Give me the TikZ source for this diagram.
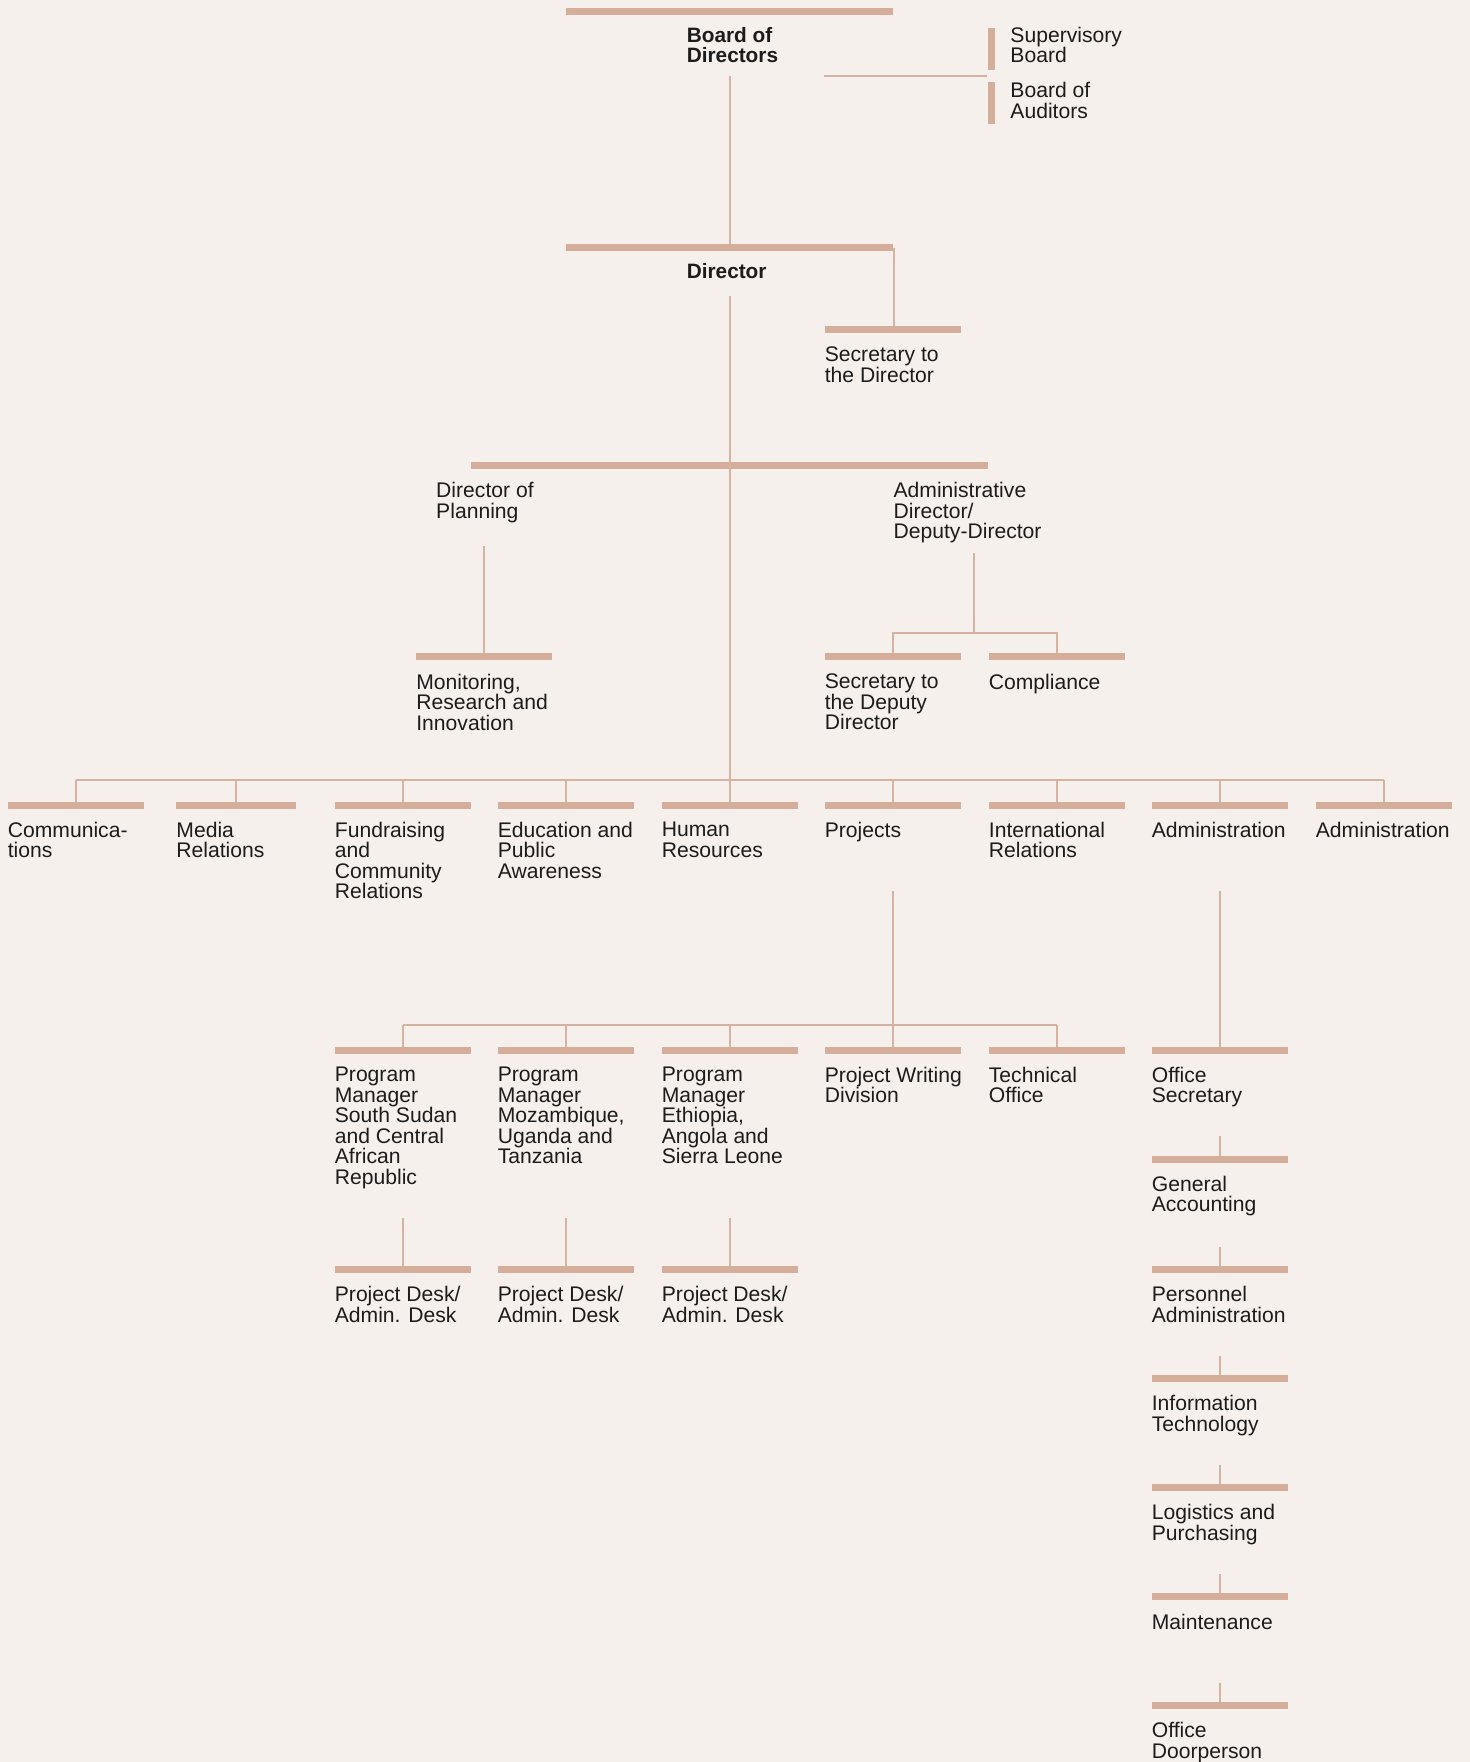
\documentclass[tikz,border=0pt]{standalone}
\usepackage{fontspec}
\setmainfont{Liberation Sans}
\usepackage{tikz}
\usetikzlibrary{positioning}
\definecolor{bgcol}{RGB}{245,240,235}
\definecolor{barcol}{RGB}{212,173,155}
\definecolor{linecol}{RGB}{214,178,161}
\definecolor{ink}{RGB}{28,28,28}
\tikzset{
    % 粗横条
    rolebar/.style={
        fill=barcol,
        inner sep=0pt,
        minimum height=6pt,
        minimum width=121pt
    },
    sidebar/.style={
        fill=barcol,
        inner sep=0pt,
        minimum width=6pt,
        minimum height=37pt
    },
    % 细连线
    wire/.style={
        linecol,
        line width=1.8pt
    },
    rolelbl/.style={
        anchor=north west,
        inner sep=0pt,
        align=left,
        text=ink,
        font=\fontsize{18.8}{18.2}\selectfont,
        execute at begin node={\rule{0pt}{14pt}}
    },
    headlbl/.style={
        rolelbl,
        font=\fontsize{18.5}{18.2}\selectfont\bfseries
    }
}

\begin{document}
\begin{tikzpicture}[x=1pt,y=-1pt]
	\fill[bgcol] (0,0) rectangle (1308,1568);
	\useasboundingbox (0,0) rectangle (1308,1568);
	
	% 顶层
	\node[rolebar,minimum width=291pt] (bodbar) at (649.5,10.5) {};
	\node[headlbl] (bodlbl) at (611,24) {Board of\\Directors};
	\node[sidebar] (supbar) at (882.5,43.5) {};
	\node[rolelbl] (suplbl) at (899,24) {Supervisory\\Board};
	\node[sidebar] (audbar) at (882.5,91.5) {};
	\node[rolelbl] (audlbl) at (899,73) {Board of\\Auditors};
	
	\node[rolebar,minimum width=291pt] (dirbar) at (649.5,220.5) {};
	\node[headlbl] (dirlbl) at (611,234) {Director};
	\node[rolebar] (secbar) at (794.5,293.5) {};
	\node[rolelbl,below right=15pt and 0pt of secbar.west] (seclbl) {Secretary to\\the Director};
	
	% 第二层
	\node[rolebar,minimum width=460pt] (midbar) at (649,414) {};
	\node[rolelbl] (planlbl) at (388,429) {Director of\\Planning};
	\node[rolelbl] (deplbl) at (795,429) {Administrative\\Director/\\Deputy-Director};
	\node[rolebar] (monbar) at (431,584.5) {};
	\node[rolelbl,below right=15pt and 0pt of monbar.west] (monlbl) {Monitoring,\\Research and\\Innovation};
	\node[rolebar] (sdbar) at (794.5,584.5) {};
	\node[rolelbl,below right=15pt and 0pt of sdbar.west] (sdlbl) {Secretary to\\the Deputy\\Director};
	\node[rolebar] (compbar) at (940.5,584.5) {};
	\node[rolelbl,below right=15pt and 0pt of compbar.west] (complbl) {Compliance};
	
	% 部门
	\node[rolebar] (commbar) at (67.5,716.5) {};
	\node[rolelbl,below right=15pt and 0pt of commbar.west] {Communica-\\tions};
	\node[rolebar,minimum width=106pt] (mediabar) at (210,716.5) {};
	\node[rolelbl,below right=15pt and 0pt of mediabar.west] {Media\\Relations};
	\node[rolebar] (fundbar) at (358.5,716.5) {};
	\node[rolelbl,below right=15pt and 0pt of fundbar.west] {Fundraising\\and\\Community\\Relations};
	\node[rolebar] (edubar) at (503.5,716.5) {};
	\node[rolelbl,below right=15pt and 0pt of edubar.west] {Education and\\Public\\Awareness};
	\node[rolebar] (hrbar) at (649.5,716.5) {};
	\node[rolelbl,below right=15pt and 0pt of hrbar.west] {Human\\Resources};
	\node[rolebar] (projbar) at (794.5,716.5) {};
	\node[rolelbl,below right=15pt and 0pt of projbar.west] {Projects};
	\node[rolebar] (intlbar) at (940.5,716.5) {};
	\node[rolelbl,below right=15pt and 0pt of intlbar.west] {International\\Relations};
	\node[rolebar] (admbar) at (1085.5,716.5) {};
	\node[rolelbl,below right=15pt and 0pt of admbar.west] {Administration};
	\node[rolebar] (admtwobar) at (1231.5,716.5) {};
	\node[rolelbl,below right=15pt and 0pt of admtwobar.west] {Administration};
	
	% 项目
	\node[rolebar] (pmabar) at (358.5,934.5) {};
	\node[rolelbl,below right=15pt and 0pt of pmabar.west] {Program\\Manager\\South Sudan\\and Central\\African\\Republic};
	\node[rolebar] (pmbbar) at (503.5,934.5) {};
	\node[rolelbl,below right=15pt and 0pt of pmbbar.west] {Program\\Manager\\Mozambique,\\Uganda and\\Tanzania};
	\node[rolebar] (pmcbar) at (649.5,934.5) {};
	\node[rolelbl,below right=15pt and 0pt of pmcbar.west] {Program\\Manager\\Ethiopia,\\Angola and\\Sierra Leone};
	\node[rolebar] (pwbar) at (794.5,934.5) {};
	\node[rolelbl,below right=15pt and 0pt of pwbar.west] {Project Writing\\Division};
	\node[rolebar] (techbar) at (940.5,934.5) {};
	\node[rolelbl,below right=15pt and 0pt of techbar.west] {Technical\\Office};
	
	\node[rolebar] (deskabar) at (358.5,1129.5) {};
	\node[rolelbl,below right=15pt and 0pt of deskabar.west] {Project Desk/\\Admin. Desk};
	\node[rolebar] (deskbbar) at (503.5,1129.5) {};
	\node[rolelbl,below right=15pt and 0pt of deskbbar.west] {Project Desk/\\Admin. Desk};
	\node[rolebar] (deskcbar) at (649.5,1129.5) {};
	\node[rolelbl,below right=15pt and 0pt of deskcbar.west] {Project Desk/\\Admin. Desk};
	
	% 行政
	\node[rolebar] (offbar) at (1085.5,934.5) {};
	\node[rolelbl,below right=15pt and 0pt of offbar.west] {Office\\Secretary};
	\node[rolebar] (accbar) at (1085.5,1031.5) {};
	\node[rolelbl,below right=15pt and 0pt of accbar.west] {General\\Accounting};
	\node[rolebar] (persbar) at (1085.5,1129.5) {};
	\node[rolelbl,below right=15pt and 0pt of persbar.west] {Personnel\\Administration};
	\node[rolebar] (itbar) at (1085.5,1226.5) {};
	\node[rolelbl,below right=15pt and 0pt of itbar.west] {Information\\Technology};
	\node[rolebar] (logbar) at (1085.5,1323.5) {};
	\node[rolelbl,below right=15pt and 0pt of logbar.west] {Logistics and\\Purchasing};
	\node[rolebar] (mntbar) at (1085.5,1420.5) {};
	\node[rolelbl,below right=15pt and 0pt of mntbar.west] {Maintenance};
	\node[rolebar] (doorbar) at (1085.5,1517.5) {};
	\node[rolelbl,below right=15pt and 0pt of doorbar.west] {Office\\Doorperson};
	
	\path
	(650,68) coordinate (bodfoot)
	(733,68) coordinate (bodside)
	(878,68) coordinate (boardgap)
	(650,263) coordinate (dirfoot)
	(431,486) coordinate (planfoot)
	(867,492) coordinate (depfoot)
	(867,563) coordinate (depbus)
	(650,694) coordinate (mainbus)
	(794.5,793) coordinate (projfoot)
	(794.5,912) coordinate (pmbus)
	(1085.5,793) coordinate (admfoot);
	
	% 连线
	\draw[wire] (bodfoot) -- (bodfoot |- dirbar.north);
	\draw[wire] (bodside) -- (boardgap);
	\draw[wire] (dirbar.east) -- (dirbar.east |- secbar.north);
	\draw[wire] (dirfoot) -- (mainbus);
	\draw[wire] (planfoot) -- (monbar.north);
	\draw[wire] (depfoot) -- (depbus);
	\draw[wire] (sdbar.north) |- (depbus) -| (compbar.north);
	\draw[wire] (commbar.north |- mainbus) -- (admtwobar.north |- mainbus);
	\foreach \b in {commbar,mediabar,fundbar,edubar,hrbar,projbar,intlbar,admbar,admtwobar}
		\draw[wire] (\b.north |- mainbus) -- (\b.north);
	\draw[wire] (projfoot) -- (pmbus);
	\draw[wire] (pmabar.north |- pmbus) -- (techbar.north |- pmbus);
	\foreach \b in {pmabar,pmbbar,pmcbar,pwbar,techbar}
		\draw[wire] (\b.north |- pmbus) -- (\b.north);
	\foreach \b in {deskabar,deskbbar,deskcbar}
		\draw[wire] ([yshift=42pt]\b.north) -- (\b.north);
	\draw[wire] (admfoot) -- (offbar.north);
	\foreach \b in {accbar,persbar,itbar,logbar,mntbar,doorbar}
		\draw[wire] ([yshift=17pt]\b.north) -- (\b.north);
\end{tikzpicture}
\end{document}
